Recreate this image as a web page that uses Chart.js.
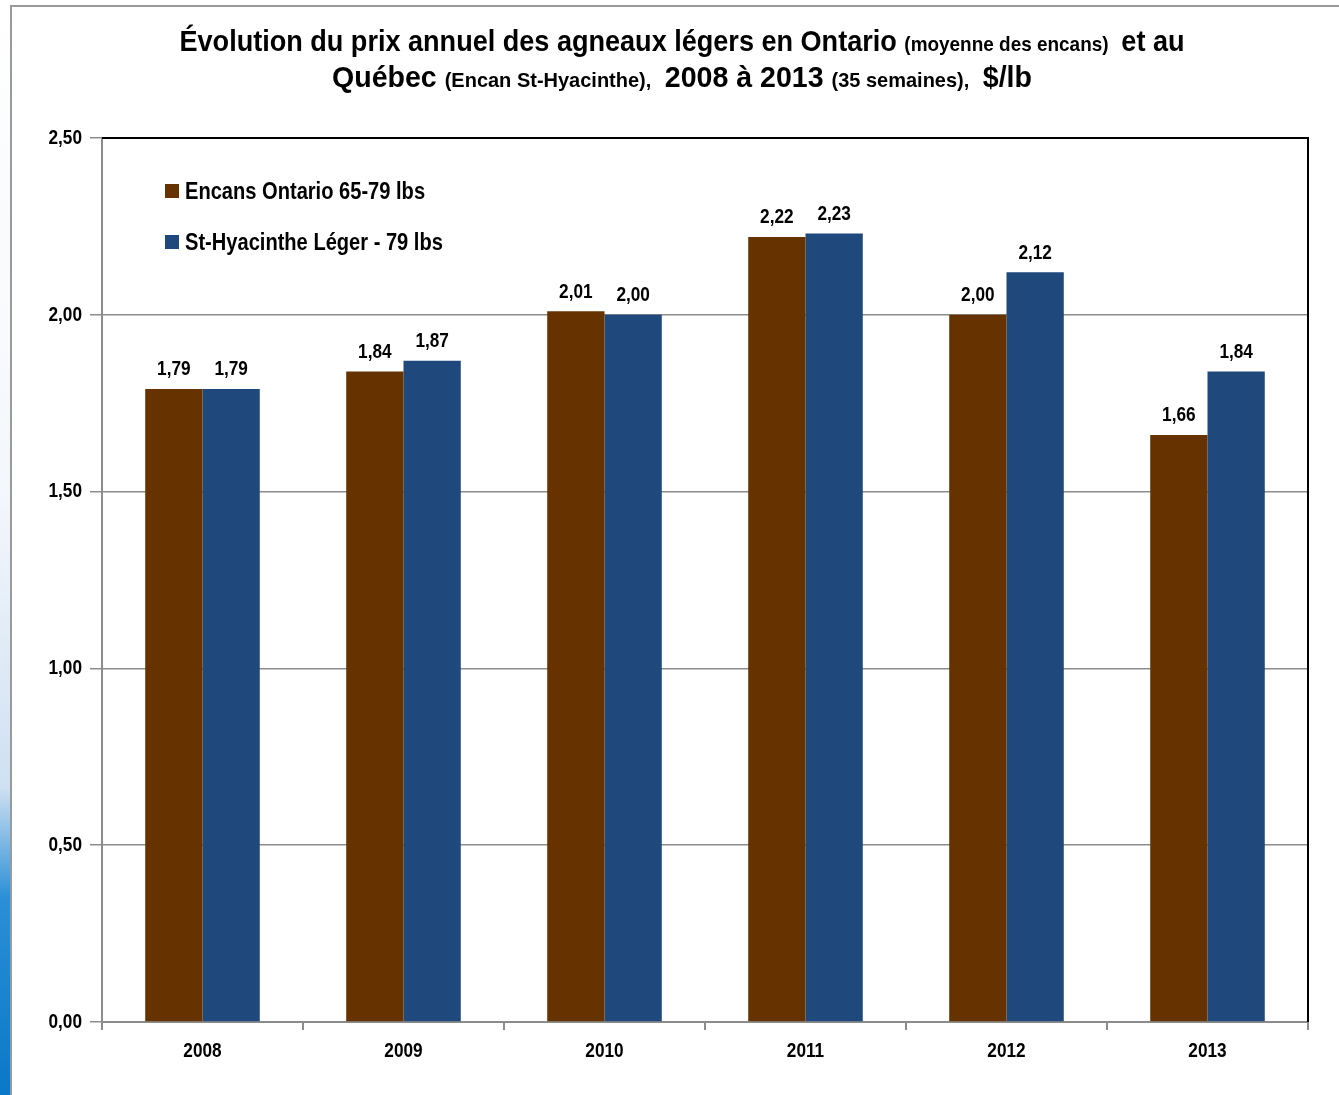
<!DOCTYPE html>
<html>
<head>
<meta charset="utf-8">
<script src="https://cdn.jsdelivr.net/npm/chart.js@4.4.1/dist/chart.umd.min.js"></script>
<style>
  html, body { margin: 0; padding: 0; background: #fff; }
  #wrap { position: relative; width: 1339px; height: 1095px; overflow: hidden; }
  #strip { position: absolute; left: 0; top: 0; width: 10px; height: 1095px;
    background: linear-gradient(to bottom, #ffffff 0%, #f4f7fb 45%, #cfe0f2 72%, #2a8fd6 82%, #0a78c8 100%); }
  #frame { position: absolute; left: 10px; top: 5px; right: -2px; bottom: -2px;
    border-left: 2px solid #9a9a9a; border-top: 2px solid #9a9a9a; }
  canvas { position: absolute; left: 0; top: 0; }
</style>
</head>
<body>
<div id="wrap">
  <div id="strip"></div>
  <div id="frame"></div>
  <canvas id="chart" width="1339" height="1095"></canvas>
</div>
<script>
// chart data
const years = ['2008', '2009', '2010', '2011', '2012', '2013'];
const ontario = [1.79, 1.84, 2.01, 2.22, 2.00, 1.66];
const stHyacinthe = [1.79, 1.87, 2.00, 2.23, 2.12, 1.84];
const seriesNames = ['Encans Ontario 65-79 lbs', 'St-Hyacinthe Léger - 79 lbs'];

const FONT = '"Liberation Sans", Arial, sans-serif';
const NARROW = 0.82; // squeeze to look like Arial Narrow

function fmt(v) {
    return v.toFixed(2).replace('.', ',');
}

// draw text squeezed horizontally by sx
function narrowText(ctx, text, x, y, sx, align) {
    const w = ctx.measureText(text).width * sx;
    let left = x;
    if (align === 'center') left = x - w / 2;
    if (align === 'right') left = x - w;
    ctx.save();
    ctx.textAlign = 'left';
    ctx.translate(left, y);
    ctx.scale(sx, 1);
    ctx.fillText(text, 0, 0);
    ctx.restore();
    return w;
}

// title with mixed font sizes
const titlePlugin = {
    id: 'mixedTitle',
    afterDraw(chart) {
        const ctx = chart.ctx;
        const lines = [
            [['Évolution du prix annuel des agneaux légers en Ontario ', 30], ['(moyenne des encans) ', 21], [' et au', 30]],
            [['Québec ', 30], ['(Encan St-Hyacinthe), ', 21], [' 2008 à 2013 ', 30], ['(35 semaines), ', 21], [' $/lb', 30]]
        ];
        const ys = [43, 79];
        const targets = [1005, 700];
        ctx.save();
        ctx.fillStyle = '#000';
        ctx.textBaseline = 'middle';
        lines.forEach((parts, i) => {
            let total = 0;
            parts.forEach(p => {
                ctx.font = 'bold ' + p[1] + 'px ' + FONT;
                total += ctx.measureText(p[0]).width;
            });
            const sx = targets[i] / total;
            let x = 682 - targets[i] / 2;
            parts.forEach(p => {
                ctx.font = 'bold ' + p[1] + 'px ' + FONT;
                x += narrowText(ctx, p[0], x, ys[i] + (p[1] < 30 ? 2 : 0), sx, 'left');
            });
        });
        ctx.restore();
    }
};

// value labels, tick labels, legend inside the plot, black top/right border
const extrasPlugin = {
    id: 'extras',
    afterDatasetsDraw(chart) {
        const ctx = chart.ctx;
        const area = chart.chartArea;
        ctx.save();
        ctx.font = 'bold 21px ' + FONT;
        ctx.fillStyle = '#000';
        ctx.textBaseline = 'bottom';
        chart.data.datasets.forEach((ds, di) => {
            chart.getDatasetMeta(di).data.forEach((bar, i) => {
                narrowText(ctx, fmt(ds.data[i]), bar.x, bar.y - 9, NARROW, 'center');
            });
        });

        // axis tick labels
        ctx.textBaseline = 'middle';
        const ys = chart.scales.y;
        ys.ticks.forEach((t, i) => {
            narrowText(ctx, fmt(t.value), area.left - 20, ys.getPixelForTick(i), NARROW, 'right');
        });
        const xs = chart.scales.x;
        xs.ticks.forEach((t, i) => {
            narrowText(ctx, chart.data.labels[i], xs.getPixelForTick(i), area.bottom + 29, NARROW, 'center');
        });

        // plot border top/right
        ctx.strokeStyle = '#000';
        ctx.lineWidth = 2;
        ctx.beginPath();
        ctx.moveTo(area.left, area.top);
        ctx.lineTo(area.right, area.top);
        ctx.lineTo(area.right, area.bottom);
        ctx.stroke();

        // legend
        ctx.font = 'bold 24.5px ' + FONT;
        ctx.textBaseline = 'middle';
        chart.data.datasets.forEach((ds, di) => {
            const y = 191 + di * 51;
            ctx.fillStyle = ds.backgroundColor;
            ctx.fillRect(165, y - 7, 14, 14);
            ctx.fillStyle = '#000';
            narrowText(ctx, ds.label, 185, y + 1, NARROW, 'left');
        });
        ctx.restore();
    }
};

new Chart(document.getElementById('chart'), {
    type: 'bar',
    data: {
        labels: years,
        datasets: [{
            label: seriesNames[0],
            data: ontario,
            backgroundColor: '#663300',
            borderWidth: 0,
            categoryPercentage: 0.57,
            barPercentage: 1.0
        }, {
            label: seriesNames[1],
            data: stHyacinthe,
            backgroundColor: '#1f497d',
            borderWidth: 0,
            categoryPercentage: 0.57,
            barPercentage: 1.0
        }]
    },
    options: {
        responsive: false,
        animation: false,
        layout: {
            padding: { top: 138, right: 31, left: 0, bottom: 0 }
        },
        plugins: {
            legend: { display: false },
            title: { display: false },
            tooltip: { enabled: false }
        },
        scales: {
            x: {
                afterFit(scale) { scale.height = 73; },
                grid: {
                    offset: true,
                    drawOnChartArea: false,
                    tickLength: 8,
                    color: '#8c8c8c',
                    lineWidth: 2
                },
                border: { color: '#8c8c8c', width: 2 },
                ticks: {
                    color: 'rgba(0,0,0,0)',
                    padding: 10,
                    font: { family: FONT, size: 20, weight: 'bold' }
                }
            },
            y: {
                min: 0,
                max: 2.5,
                afterFit(scale) { scale.width = 102; },
                grid: {
                    color: '#8c8c8c',
                    lineWidth: 1.5,
                    tickLength: 12
                },
                border: { color: '#8c8c8c', width: 2 },
                ticks: {
                    stepSize: 0.5,
                    color: 'rgba(0,0,0,0)',
                    padding: 8,
                    font: { family: FONT, size: 20, weight: 'bold' },
                    callback: v => fmt(v)
                }
            }
        }
    },
    plugins: [titlePlugin, extrasPlugin]
});
</script>
</body>
</html>
